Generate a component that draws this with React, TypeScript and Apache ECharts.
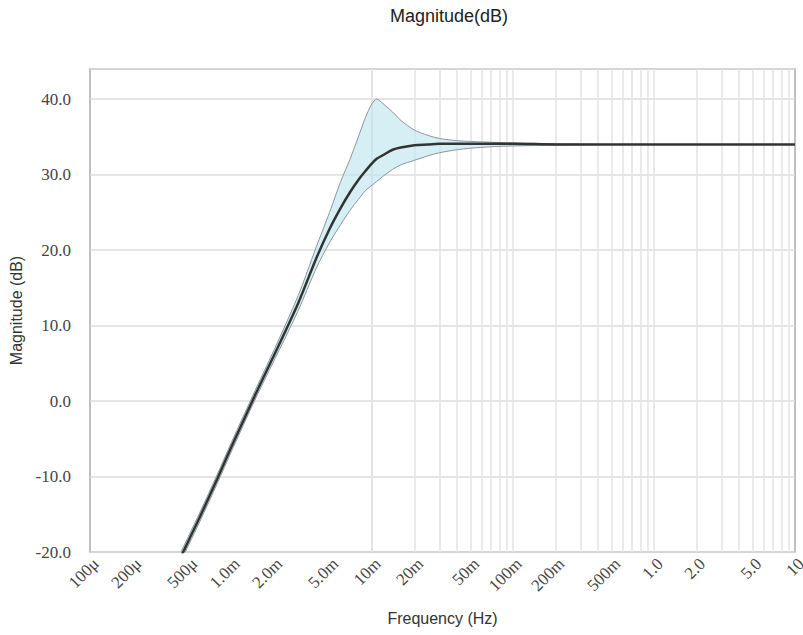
import React, { useEffect, useRef } from "react";
import * as echarts from "echarts";

// Frequency samples (Hz)
const freqs = [
  0.0004, 0.0005, 0.0006, 0.0008, 0.001, 0.0015, 0.002, 0.003, 0.004, 0.005,
  0.006, 0.007, 0.008, 0.009, 0.01, 0.0108, 0.012, 0.014, 0.016, 0.02,
  0.025, 0.03, 0.04, 0.05, 0.07, 0.1, 0.2, 0.5, 1, 2, 5, 10,
];
// Mean magnitude (dB)
const meanDb = [
  -22.3, -18.5, -15.4, -10.3, -6.2, 1.0, 5.9, 13.0, 18.8, 22.8,
  25.6, 27.7, 29.3, 30.5, 31.5, 32.1, 32.6, 33.3, 33.6, 33.9,
  34.0, 34.1, 34.1, 34.1, 34.1, 34.1, 34.0, 34.0, 34.0, 34.0, 34.0, 34.0,
];
// Upper envelope (dB)
const upperDb = [
  -21.7, -17.9, -14.8, -9.7, -5.6, 1.6, 6.6, 14.0, 20.3, 25.0,
  29.1, 32.1, 35.0, 37.6, 39.4, 40.0, 39.4, 38.3, 37.2, 35.9,
  35.2, 34.8, 34.5, 34.4, 34.3, 34.2, 34.1, 34.0, 34.0, 34.0, 34.0, 34.0,
];
// Lower envelope (dB)
const lowerDb = [
  -22.9, -19.1, -16.0, -10.9, -6.8, 0.4, 5.2, 12.0, 17.5, 21.0,
  23.4, 25.3, 26.7, 27.9, 28.6, 29.1, 29.8, 30.7, 31.3, 31.9,
  32.5, 32.9, 33.3, 33.5, 33.7, 33.8, 33.9, 34.0, 34.0, 34.0, 34.0, 34.0,
];

const xTickValues = [
  1e-4, 2e-4, 5e-4, 1e-3, 2e-3, 5e-3, 1e-2, 2e-2, 5e-2, 0.1, 0.2, 0.5, 1, 2, 5, 10,
];
const xTickLabels = [
  "100μ", "200μ", "500μ", "1.0m", "2.0m", "5.0m", "10m", "20m", "50m",
  "100m", "200m", "500m", "1.0", "2.0", "5.0", "10",
];
const gridDecades = [1e-4, 1e-3, 1e-2, 1e-1, 1];
const gridMultipliers = [1, 2, 3, 4, 5, 6, 7, 8, 9];

export default function App() {
  const ref = useRef<HTMLDivElement>(null);

  useEffect(() => {
    document.body.style.margin = "0";
    const chart = echarts.init(ref.current!, null, { renderer: "svg" });

    const bandItems = freqs.map((f, i) => [f, lowerDb[i], upperDb[i]]);
    const meanData = freqs.map((f, i) => [f, meanDb[i]]);

    const vGrid: any[] = [];
    gridDecades.forEach((d) =>
      gridMultipliers.forEach((m) => {
        const v = d * m;
        if (v > 1.0001e-4 && v < 9.999) vGrid.push({ xAxis: v });
      })
    );

    const fmtX = (v: number) => {
      for (let i = 0; i < xTickValues.length; i++) {
        if (Math.abs(Math.log10(v) - Math.log10(xTickValues[i])) < 1e-6) return xTickLabels[i];
      }
      return "";
    };

    const SMOOTH = 0.3;

    const renderBand = (params: any, api: any) => {
      if (params.dataIndex !== 0) return null;
      const up = bandItems.map((d) => api.coord([d[0], d[2]]));
      const lo = bandItems.map((d) => api.coord([d[0], d[1]]));
      const poly = up.concat(lo.slice().reverse());
      const cs = params.coordSys;
      return {
        type: "group",
        clipPath: {
          type: "rect",
          shape: { x: cs.x, y: cs.y, width: cs.width, height: cs.height },
        },
        children: [
          {
            type: "polygon",
            shape: { points: poly, smooth: SMOOTH },
            style: { fill: "#bfe6ee", opacity: 0.65, stroke: "none" },
          },
          {
            type: "polyline",
            shape: { points: up, smooth: SMOOTH },
            style: { fill: "none", stroke: "#8a989c", lineWidth: 1 },
          },
          {
            type: "polyline",
            shape: { points: lo, smooth: SMOOTH },
            style: { fill: "none", stroke: "#8a989c", lineWidth: 1 },
          },
        ],
      };
    };

    const option: any = {
      animation: false,
      backgroundColor: "#ffffff",
      title: {
        text: "Magnitude(dB)",
        left: 385,
        top: 2,
        textStyle: {
          fontFamily: "Liberation Sans, Arial, sans-serif",
          fontSize: 18,
          fontWeight: "normal",
          color: "#222",
        },
      },
      grid: {
        left: 90,
        right: 8,
        top: 69,
        bottom: 83,
        outerBoundsMode: "none",
        containLabel: false,
        show: true,
        borderColor: "#aaaaaa",
        borderWidth: 1.5,
        backgroundColor: "transparent",
      },
      xAxis: {
        type: "log",
        logBase: 10,
        min: 1e-4,
        max: 10,
        name: "Frequency (Hz)",
        nameLocation: "middle",
        nameGap: 58,
        nameTextStyle: {
          fontFamily: "Liberation Sans, Arial, sans-serif",
          fontSize: 16,
          color: "#333",
        },
        axisLine: { show: false },
        axisTick: { show: false },
        splitLine: { show: false },
        axisLabel: {
          customValues: xTickValues,
          rotate: 45,
          margin: 3,
          verticalAlign: "top",
          formatter: fmtX,
          fontFamily: "Liberation Serif, Times New Roman, serif",
          fontSize: 17,
          color: "#444",
          hideOverlap: false,
        },
      },
      yAxis: {
        type: "value",
        min: -20,
        max: 44,
        interval: 10,
        name: "Magnitude (dB)",
        nameLocation: "middle",
        nameGap: 62,
        nameTextStyle: {
          fontFamily: "Liberation Sans, Arial, sans-serif",
          fontSize: 16,
          color: "#333",
        },
        axisLine: { show: false },
        axisTick: { show: false },
        splitLine: { show: true, lineStyle: { color: "#dddddd", width: 1.5 } },
        axisLabel: {
          formatter: (v: number) => v.toFixed(1),
          showMaxLabel: false,
          margin: 19,
          fontFamily: "Liberation Serif, Times New Roman, serif",
          fontSize: 17,
          color: "#444",
        },
      },
      series: [
        {
          name: "grid",
          type: "line",
          data: [],
          z: 1,
          silent: true,
          markLine: {
            silent: true,
            z: 1,
            symbol: ["none", "none"],
            label: { show: false },
            lineStyle: { type: "solid", color: "#e3e3e3", width: 1.5 },
            data: vGrid,
          },
        },
        {
          name: "band",
          type: "custom",
          data: bandItems,
          encode: { x: 0, y: [1, 2] },
          z: 2,
          silent: true,
          renderItem: renderBand,
        },
        {
          name: "mean",
          type: "line",
          data: meanData,
          showSymbol: false,
          smooth: SMOOTH,
          z: 3,
          lineStyle: { color: "#333333", width: 2.5 },
        },
      ],
    };

    chart.setOption(option);
    return () => chart.dispose();
  }, []);

  return <div ref={ref} style={{ width: 803, height: 635 }} />;
}
